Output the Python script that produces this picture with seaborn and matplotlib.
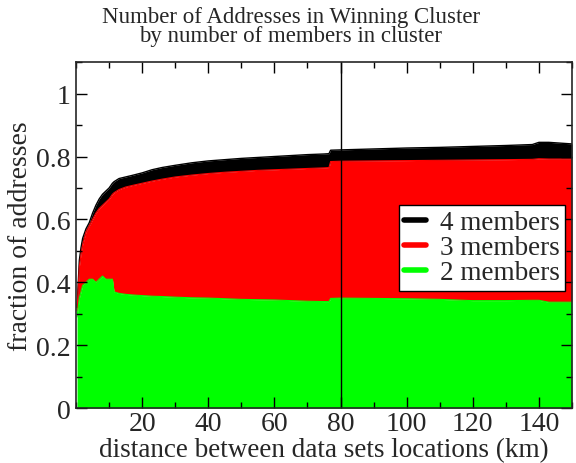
import numpy as np
import pandas as pd
import matplotlib
matplotlib.use("Agg")
import matplotlib.pyplot as plt
from matplotlib.lines import Line2D
from matplotlib.ticker import MultipleLocator
import seaborn as sns

# distance (km) and cumulative fraction of addresses
distance = [0.3, 1, 1.5, 2, 3, 4, 5, 6, 7, 8, 9, 10, 11, 11.5, 13, 15, 17, 20,
            23, 26, 30, 35, 40, 45, 50, 55, 60, 65, 70, 75, 76.5, 77, 80, 90,
            100, 110, 120, 130, 138, 140, 143, 150]
two_members = [0.29, 0.35, 0.37, 0.39, 0.40, 0.41, 0.41, 0.40, 0.41, 0.42, 0.41,
               0.41, 0.41, 0.37, 0.365, 0.362, 0.36, 0.358, 0.356, 0.355, 0.353,
               0.351, 0.350, 0.348, 0.346, 0.345, 0.344, 0.342, 0.340, 0.339,
               0.339, 0.349, 0.350, 0.349, 0.348, 0.346, 0.342, 0.342, 0.343,
               0.343, 0.337, 0.337]
upto_three = [0.31, 0.45, 0.49, 0.52, 0.56, 0.58, 0.60, 0.62, 0.635, 0.645, 0.655,
              0.665, 0.68, 0.685, 0.695, 0.703, 0.708, 0.715, 0.722, 0.728, 0.735,
              0.741, 0.746, 0.750, 0.753, 0.756, 0.758, 0.760, 0.762, 0.764,
              0.765, 0.784, 0.785, 0.786, 0.787, 0.788, 0.789, 0.790, 0.791,
              0.793, 0.792, 0.792]
upto_four = [0.32, 0.47, 0.51, 0.54, 0.57, 0.59, 0.62, 0.645, 0.665, 0.68, 0.69,
             0.70, 0.715, 0.72, 0.73, 0.735, 0.74, 0.748, 0.758, 0.765, 0.772,
             0.780, 0.786, 0.790, 0.794, 0.797, 0.800, 0.803, 0.806, 0.808,
             0.809, 0.82, 0.821, 0.824, 0.827, 0.829, 0.832, 0.835, 0.838,
             0.845, 0.845, 0.84]

df = pd.DataFrame({"dist": distance, "two": two_members,
                   "three": upto_three, "four": upto_four})

sns.set_style("ticks")
plt.rcParams['font.family'] = ['Liberation Serif', 'DejaVu Serif']

fig = plt.figure(figsize=(5.76, 4.64), dpi=100)
ax = fig.add_axes([0.132, 0.118, 0.861, 0.746])
ax.set_axisbelow(False)

ax.fill_between(df["dist"], df["three"], df["four"], color="black", lw=0)
ax.fill_between(df["dist"], df["two"], df["three"], color="#ff0000", lw=0)
ax.fill_between(df["dist"], 0, df["two"], color="#00ff00", lw=0)
sns.lineplot(x="dist", y="four", data=df, color="black", lw=1, ax=ax)
sns.lineplot(x="dist", y="three", data=df, color="#ff0000", lw=0.8, ax=ax)
sns.lineplot(x="dist", y="two", data=df, color="#00ff00", lw=0.8, ax=ax)
ax.axvline(80, color="black", lw=1)

ax.set_xlim(0, 150)
ax.set_ylim(0, 1.1)
ax.set_xticks([20, 40, 60, 80, 100, 120, 140])
ax.xaxis.set_minor_locator(MultipleLocator(10))
ax.set_yticks([0, 0.2, 0.4, 0.6, 0.8, 1.0])
ax.set_yticklabels(["0", "0.2", "0.4", "0.6", "0.8", "1"])
ax.yaxis.set_minor_locator(MultipleLocator(0.1))
ax.tick_params(which="both", direction="in", top=True, right=True,
               labelsize=20, width=1, color="black", zorder=6)
ax.tick_params(axis="x", which="both", pad=2)
ax.tick_params(axis="y", which="both", pad=4)
ax.tick_params(which="major", length=8)
ax.tick_params(which="minor", length=4)
for s in ax.spines.values():
    s.set_linewidth(1.2)
    s.set_zorder(5)

ax.set_xlabel("distance between data sets locations (km)", fontsize=19.5, labelpad=1)
ax.set_ylabel("fraction of addresses", fontsize=20, labelpad=2)
fig.text(0.505, 0.985, "Number of Addresses in Winning Cluster\nby number of members in cluster",
         ha="center", va="top", fontsize=16.5, linespacing=0.85)

handles = [Line2D([], [], color="black", lw=4),
           Line2D([], [], color="#ff0000", lw=4),
           Line2D([], [], color="#00ff00", lw=4)]
leg = ax.legend(handles, ["4 members", "3 members", "2 members"],
                loc="upper left", bbox_to_anchor=(0.651, 0.588), fontsize=19.5,
                frameon=True, fancybox=False, framealpha=1, edgecolor="black",
                handlelength=0.8, handletextpad=0.5, labelspacing=0.0,
                borderpad=0.2, borderaxespad=0)
leg.get_frame().set_linewidth(1)

fig.savefig("out.png", dpi=100)
